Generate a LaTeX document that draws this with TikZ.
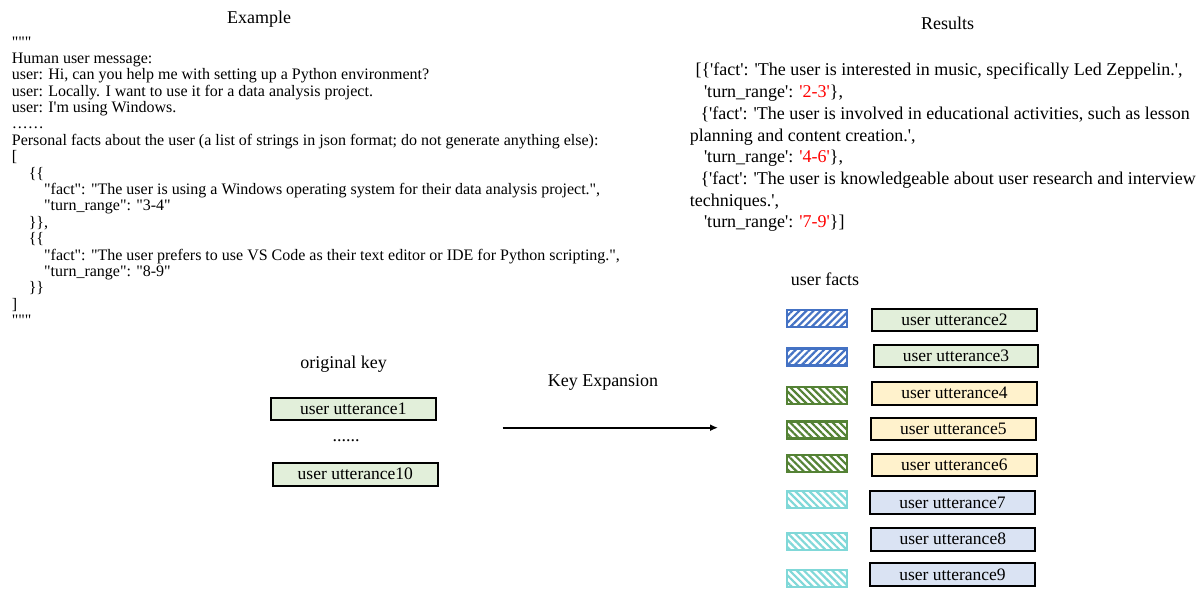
\documentclass[tikz,border=0pt]{standalone}
\usepackage{fontspec}
\usetikzlibrary{arrows.meta,patterns.meta}
\newfontfamily\tnr{Liberation Serif}
\definecolor{hblue}{HTML}{4472C4}
\definecolor{hgreen}{HTML}{548235}
\definecolor{hcyan}{HTML}{80D8D8}
\definecolor{fgreen}{HTML}{E2EFDA}
\definecolor{fyellow}{HTML}{FFF2CC}
\definecolor{fblue}{HTML}{DAE3F3}
\definecolor{tred}{HTML}{FF0000}
\tikzset{
  lt/.style={anchor=base west, inner sep=0pt, font=\tnr\fontsize{16}{16}\selectfont},
  rt/.style={anchor=base west, inner sep=0pt, font=\tnr\fontsize{18}{18}\selectfont},
  lbl/.style={anchor=base, inner sep=0pt, font=\tnr\fontsize{18}{18}\selectfont},
  ubox/.style={draw=black, line width=2pt, fill=#1, minimum width=164.4pt, minimum height=22.6pt, inner sep=0pt, font=\tnr\fontsize{17.5}{17.5}\selectfont},
  hbox/.style n args={2}{draw=#1, line width=2.2pt, minimum width=59.7pt, minimum height=17pt, inner sep=0pt,
     pattern={Lines[angle=#2, distance=5pt, line width=2.2pt]}, pattern color=#1},
}
\begin{document}
\begin{tikzpicture}[x=1pt,y=-1pt]
\useasboundingbox[fill=white] (0,0) rectangle (1200,594);
% ---- Example ----
\node[lbl] (extitle) at (259,23.3) {Example};
\node[lt] (l0) at (11.7,47.5) {"""};
\node[lt] (l1) at (11.7,63.3) {Human user message:};
\node[lt] (l2) at (11.7,79.7) {user: Hi, can you help me with setting up a Python environment?};
\node[lt] (l3) at (11.7,96.1) {user: Locally. I want to use it for a data analysis project.};
\node[lt] (l4) at (11.7,112.5) {user: I'm using Windows.};
\node[lt] (l5) at (11.7,128.9) {……};
\node[lt] (l6) at (11.7,145.3) {Personal facts about the user (a list of strings in json format; do not generate anything else):};
\node[lt] (l7) at (11.7,161.7) {[};
\node[lt] (l8) at (28.6,178.1) {\{\{};
\node[lt] (l9) at (44,194.5) {"fact": "The user is using a Windows operating system for their data analysis project.",};
\node[lt] (l10) at (44,210.9) {"turn\_range": "3-4"};
\node[lt] (l11) at (28.6,227.3) {\}\},};
\node[lt] (l12) at (28.6,243.7) {\{\{};
\node[lt] (l13) at (44,260.1) {"fact": "The user prefers to use VS Code as their text editor or IDE for Python scripting.",};
\node[lt] (l14) at (44,276.5) {"turn\_range": "8-9"};
\node[lt] (l15) at (28.6,292.9) {\}\}};
\node[lt] (l16) at (11.7,309.3) {]};
\node[lt] (l17) at (11.7,325.7) {"""};
% ---- Results ----
\node[lbl] (restitle) at (947.7,29.7) {Results};
\node[rt] (r1) at (695.3,76) {[\{'fact': 'The user is interested in music, specifically Led Zeppelin.',};
\node[rt] (r2) at (703.8,97.6) {'turn\_range': \textcolor{tred}{'2-3'}\},};
\node[rt] (r3) at (700.4,119.3) {\{'fact': 'The user is involved in educational activities, such as lesson};
\node[rt] (r4) at (689.6,141) {planning and content creation.',};
\node[rt] (r5) at (703.8,162.6) {'turn\_range': \textcolor{tred}{'4-6'}\},};
\node[rt] (r6) at (700.4,184.3) {\{'fact': 'The user is knowledgeable about user research and interview};
\node[rt] (r7) at (689.6,206) {techniques.',};
\node[rt] (r8) at (703.8,227.6) {'turn\_range': \textcolor{tred}{'7-9'}\}]};
% ---- original key ----
\node[lbl] (origkey) at (343.5,368) {original key};
\node[ubox=fgreen] (u1) at (353.3,408.8) {user utterance1};
\node[lbl] (dots) at (346,441.7) {......};
\node[ubox=fgreen] (u10) at (355.3,474.2) {user utterance10};
% ---- arrow ----
\node[lbl] (keyexp) at (603,386.7) {Key Expansion};
\coordinate (ka) at (502.7,427.7);
\coordinate (kb) at (718,427.7);
\draw[line width=1.6pt, -{Latex[length=8pt,width=7pt]}] (ka) -- (kb);
% ---- user facts ----
\node[lbl] (ufacts) at (825,285) {user facts};
\node[hbox={hblue}{45}] (h2) at (816.8,318.8) {};
\node[hbox={hblue}{45}] (h3) at (816.8,357) {};
\node[hbox={hgreen}{-45}] (h4) at (816.8,395.8) {};
\node[hbox={hgreen}{-45}] (h5) at (816.8,430) {};
\node[hbox={hgreen}{-45}] (h6) at (816.8,463.8) {};
\node[hbox={hcyan}{-45}] (h7) at (816.8,499.7) {};
\node[hbox={hcyan}{-45}] (h8) at (816.8,541.7) {};
\node[hbox={hcyan}{-45}] (h9) at (816.8,578.5) {};
\node[ubox=fgreen] (u2) at (954.5,320) {user utterance2};
\node[ubox=fgreen] (u3) at (956,355.8) {user utterance3};
\node[ubox=fyellow] (u4) at (954.5,393.2) {user utterance4};
\node[ubox=fyellow] (u5) at (953.3,429) {user utterance5};
\node[ubox=fyellow] (u6) at (954.3,465) {user utterance6};
\node[ubox=fblue] (u7) at (952.5,502.7) {user utterance7};
\node[ubox=fblue] (u8) at (952.8,539.2) {user utterance8};
\node[ubox=fblue] (u9) at (952.5,574.3) {user utterance9};
\end{tikzpicture}
\end{document}
